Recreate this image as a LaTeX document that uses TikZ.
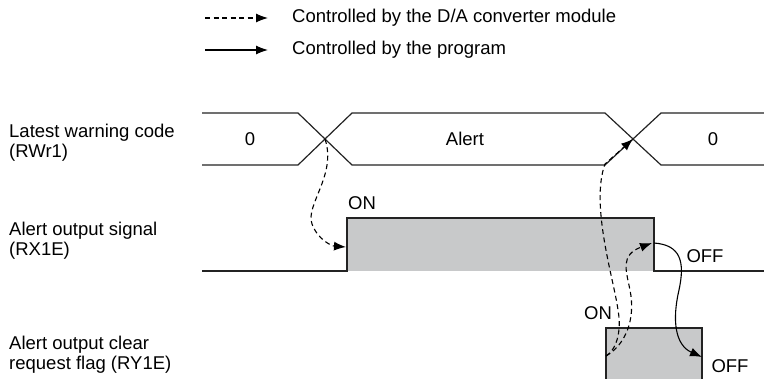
\documentclass[tikz,border=0pt]{standalone}
\usepackage{fontspec}
\setmainfont{Liberation Sans}
\usetikzlibrary{arrows.meta,positioning}
\definecolor{sigfill}{RGB}{200,201,202}
\definecolor{sigline}{RGB}{35,35,35}

\begin{document}
\begin{tikzpicture}[x=1pt,y=-1pt,
  sig/.style={line width=1.2pt,draw=sigline},
  lbl/.style={font=\fontsize{18.5}{20}\selectfont,inner sep=0pt,align=left},
  modarrow/.style={-{Latex[length=12pt,width=9pt]},dash pattern=on 5pt off 3.5pt,line width=1.1pt},
  progarrow/.style={-{Latex[length=12pt,width=9pt]},line width=1.1pt}]
\useasboundingbox (0,0) rectangle (764,378);
% legend
\node[lbl,anchor=west] (lgmod)  at (292,18) {Controlled by the D/A converter module};
\node[lbl,anchor=west] (lgprog) at (292,50) {Controlled by the program};
\coordinate (lgmodA)  at (205,18);
\coordinate (lgmodB)  at (268,18);
\coordinate (lgprogA) at (205,50);
\coordinate (lgprogB) at (268,50);
\draw[modarrow]  (lgmodA) -- (lgmodB);
\draw[progarrow] (lgprogA) -- (lgprogB);
% signal names
\node[lbl,anchor=west] (nmRW) at (9,143) {Latest warning code\\(RWr1)};
\node[lbl,anchor=west] (nmRX) at (9,241) {Alert output signal\\(RX1E)};
\node[lbl,anchor=west] (nmRY) at (9,355) {Alert output clear\\request flag (RY1E)};
% RWr1
\draw[sig] (202,113) -- (298,113) -- (352,165) -- (605,165) -- (661,113) -- (764,113);
\draw[sig] (202,165) -- (298,165) -- (352,113) -- (605,113) -- (661,165) -- (764,165);
\node[lbl] (rwZeroA) at (250,139) {0};
\node[lbl] (rwAlert) at (465,139) {Alert};
\node[lbl] (rwZeroB) at (713,139) {0};
% RX1E
\fill[sigfill] (347,218) rectangle (654,271);
\draw[sig] (202,271) -- (347,271) -- (347,218) -- (654,218) -- (654,271) -- (764,271);
\node[lbl] (rxOn)  at (362,203) {ON};
\node[lbl] (rxOff) at (705,256) {OFF};
% RY1E
\fill[sigfill] (606,328) rectangle (702,382);
\draw[sig] (606,382) -- (606,328) -- (702,328) -- (702,382);
\node[lbl] (ryOn)  at (598,313) {ON};
\node[lbl] (ryOff) at (730,366) {OFF};
% arrows
\coordinate (crossA) at (325,139);
\coordinate (crossB) at (633,139);
\coordinate (crossBlow) at (605,164);
\coordinate (rxRise) at (346,247);
\coordinate (rxFall) at (652,243);
\coordinate (rxFallTop) at (654,243);
\coordinate (ryLeft) at (606,356);
\coordinate (ryRight) at (702,357);
\draw[modarrow] (crossA) .. controls (337,175) and (305,205) .. (312,224)
  .. controls (318,240) and (332,246) .. (rxRise);
\draw[modarrow] (ryLeft) .. controls (616,350) and (622,332) .. (618,310)
  .. controls (614,280) and (590,205) .. (crossBlow) -- (crossB);
\draw[modarrow] (ryLeft) .. controls (625,345) and (636,320) .. (630,290)
  .. controls (626,270) and (620,255) .. (rxFall);
\draw[progarrow] (rxFallTop) .. controls (681,245) and (685,262) .. (679,290)
  .. controls (672,320) and (675,345) .. (ryRight);
\end{tikzpicture}
\end{document}
